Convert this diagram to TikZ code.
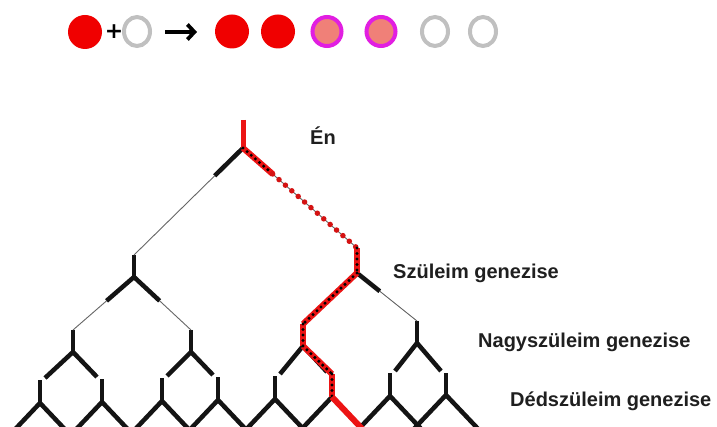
\documentclass[tikz,border=0pt]{standalone}
\usepackage{fontspec}
\setmainfont{Liberation Sans}
\newfontfamily\plusfont{DejaVu Sans}
\usetikzlibrary{calc,shapes.geometric,arrows.meta}
\definecolor{bred}{RGB}{240,0,0}
\definecolor{pathred}{RGB}{236,20,20}
\definecolor{ringgray}{RGB}{192,192,192}
\definecolor{salmon}{RGB}{240,128,120}
\definecolor{mag}{RGB}{225,30,225}
\begin{document}
\begin{tikzpicture}[x=1pt,y=-1pt,
  thickln/.style={line width=4.5pt,black!92},
  thinln/.style={line width=0.9pt,black!60},
  redsolid/.style={line width=5pt,draw=pathred},
  redpath/.style={line width=6pt,draw=pathred,postaction={draw=black,line width=3.4pt,line cap=round,dash pattern=on 0pt off 5.5pt}},
  reddots/.style={draw=pathred!90!black,line width=5.5pt,line cap=round,dash pattern=on 0pt off 8.5pt},
  lbl/.style={anchor=base west,inner sep=0pt,font=\fontsize{20}{24}\selectfont\bfseries,text=black!88},
  redball/.style={circle,fill=bred,minimum size=34pt,inner sep=0pt},
  ring/.style={ellipse,draw=ringgray,line width=4pt,minimum width=26pt,minimum height=29pt,inner sep=0pt},
  pinkball/.style={circle,fill=salmon,draw=mag,line width=4pt,minimum size=29pt,inner sep=0pt}
]
\useasboundingbox (0,0) rectangle (717,427);
\fill[white] (0,0) rectangle (717,427);

% ---- top row ----
\node[redball] (c1) at (85,32) {};
\node[inner sep=0pt,font=\plusfont\fontsize{22}{22}\selectfont\bfseries] (plus) at (114,31.5) {+};
\node[ring] (c2) at (137,31.5) {};
\coordinate (arrA) at (165,32);
\coordinate (arrB) at (197,32);
\draw[line width=3.8pt,-{Straight Barb[length=7pt,width=15pt,line width=3.8pt]}] (arrA) -- (arrB);
\node[redball] (c3) at (232,31.5) {};
\node[redball] (c4) at (278,31.5) {};
\node[pinkball] (c5) at (327,31.5) {};
\node[pinkball] (c6) at (381,31.5) {};
\node[ring] (c7) at (435,31.5) {};
\node[ring] (c8) at (483,31.5) {};

% ---- tree coordinates ----
\coordinate (r-t) at (243,120); \coordinate (r) at (243,148);
\coordinate (a-t) at (134,255); \coordinate (a) at (134,277);
\coordinate (b-t) at (357,248); \coordinate (b) at (357,273);
\coordinate (aa-t) at (73,330); \coordinate (aa) at (73,352);
\coordinate (ab-t) at (191,330); \coordinate (ab) at (191,352);
\coordinate (ba-t) at (303,324); \coordinate (ba) at (303,346);
\coordinate (bb-t) at (417,321); \coordinate (bb) at (417,343);
\coordinate (aaa-t) at (40,380); \coordinate (aaa) at (40,403);
\coordinate (aab-t) at (102,379); \coordinate (aab) at (102,402);
\coordinate (aba-t) at (162,378); \coordinate (aba) at (162,401);
\coordinate (abb-t) at (218,377); \coordinate (abb) at (218,400);
\coordinate (baa-t) at (275,376); \coordinate (baa) at (275,399);
\coordinate (bab-t) at (332,374); \coordinate (bab) at (332,397);
\coordinate (bba-t) at (390,373); \coordinate (bba) at (390,396);
\coordinate (bbb-t) at (446,373); \coordinate (bbb) at (446,395);

\begin{scope}
\clip (0,0) rectangle (717,427);
% stems
\foreach \n in {a,b,aa,ab,ba,bb}{\draw[thickln] (\n-t) -- (\n);}
% level 3 stems and bottom branches
\foreach \n in {aaa,aab,aba,abb,baa,bab,bba,bbb}{
  \coordinate (\n-l) at ($(\n)+(-36,38)$);
  \coordinate (\n-r) at ($(\n)+(36,38)$);
  \draw[thickln] (\n-t) -- (\n);
  \draw[thickln] (\n) -- (\n-l);
  \draw[thickln] (\n) -- (\n-r);
}
% root branches: thick then thin
\draw[thickln] (r) -- ($(r)!0.26!(a-t)$) coordinate (rA);
\draw[thinln] (rA) -- (a-t);
\draw[thickln] (r) -- ($(r)!0.26!(b-t)$) coordinate (rB);
\draw[thinln] (rB) -- (b-t);
% level 1 branches
\draw[thickln] (a) -- ($(a)!0.45!(aa-t)$) coordinate (aA);
\draw[thinln] (aA) -- (aa-t);
\draw[thickln] (a) -- ($(a)!0.45!(ab-t)$) coordinate (aB);
\draw[thinln] (aB) -- (ab-t);
\draw[thickln] (b) -- ($(b)!0.45!(ba-t)$) coordinate (bA);
\draw[thinln] (bA) -- (ba-t);
\draw[thickln] (b) -- ($(b)!0.38!(bb-t)$) coordinate (bB);
\draw[thinln] (bB) -- (bb-t);
% level 2 branches (thick, ending beside the child stems)
\draw[thickln] (aa) -- ($(aaa-t)+(5,-2)$) coordinate (aaL);
\draw[thickln] (aa) -- ($(aab-t)+(-5,-2)$) coordinate (aaR);
\draw[thickln] (ab) -- ($(aba-t)+(5,-2)$) coordinate (abL);
\draw[thickln] (ab) -- ($(abb-t)+(-5,-2)$) coordinate (abR);
\draw[thickln] (ba) -- ($(baa-t)+(5,-2)$) coordinate (baL);
\draw[thickln] (ba) -- ($(bab-t)+(-5,-2)$) coordinate (baR);
\draw[thickln] (bb) -- ($(bba-t)+(5,-2)$) coordinate (bbL);
\draw[thickln] (bb) -- ($(bbb-t)+(-5,-2)$) coordinate (bbR);

% ---- highlighted line of descent ----
\draw[redsolid] (r-t) -- (r);
\draw[redpath] (r) -- (rB);
\draw[reddots] (rB) -- (b-t);
\draw[redpath] (b-t) -- (b);
\draw[redpath] (b) -- (ba-t);
\draw[redpath] (ba-t) -- (ba);
\draw[redpath] (ba) -- (bab-t);
\draw[redpath] (bab-t) -- (bab);
\draw[line width=6pt,draw=pathred] (bab) -- (bab-r);
\end{scope}

% ---- labels ----
\node[lbl] (en) at (310,145) {Én};
\node[lbl] (sz) at (393,279) {Szüleim genezise};
\node[lbl] (nsz) at (478,347) {Nagyszüleim genezise};
\node[lbl] (dsz) at (510,406) {Dédszüleim genezise};
\end{tikzpicture}
\end{document}
